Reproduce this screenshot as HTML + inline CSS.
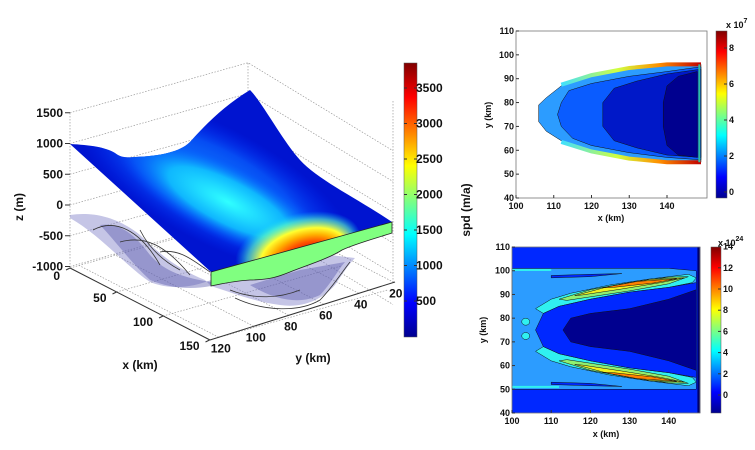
<!DOCTYPE html>
<html><head><meta charset="utf-8">
<style>
body{margin:0;background:#fff;}
svg{display:block;font-family:"Liberation Sans",Arial,sans-serif;}
.t{font-size:12px;font-weight:bold;fill:#111;}
.s{font-size:9px;font-weight:bold;fill:#111;}
</style></head>
<body>
<svg id="fig" width="755" height="450" viewBox="0 0 755 450" xmlns="http://www.w3.org/2000/svg">
<defs>
<linearGradient id="jet" x1="0" y1="1" x2="0" y2="0">
<stop offset="0" stop-color="#00008f"/><stop offset="0.125" stop-color="#0000ff"/><stop offset="0.375" stop-color="#00ffff"/><stop offset="0.625" stop-color="#ffff00"/><stop offset="0.875" stop-color="#ff0000"/><stop offset="1" stop-color="#800000"/>
</linearGradient>
<linearGradient id="band" x1="0" y1="0" x2="1" y2="0">
<stop offset="0" stop-color="#3fe0ff"/><stop offset="0.4" stop-color="#d0ff40"/><stop offset="0.7" stop-color="#ff9000"/><stop offset="1" stop-color="#c00000"/>
</linearGradient>
<radialGradient id="cyan" cx="0.5" cy="0.5" r="0.5">
<stop offset="0" stop-color="#30ffff"/><stop offset="0.55" stop-color="#10c0ff" stop-opacity="0.9"/><stop offset="1" stop-color="#0040ff" stop-opacity="0"/>
</radialGradient>
<radialGradient id="mid" cx="0.5" cy="0.5" r="0.5">
<stop offset="0" stop-color="#1090ff"/><stop offset="0.6" stop-color="#0860ff" stop-opacity="0.75"/><stop offset="1" stop-color="#0030ff" stop-opacity="0"/>
</radialGradient>
<radialGradient id="hot" cx="0.5" cy="0.5" r="0.5" fx="0.6" fy="0.78">
<stop offset="0" stop-color="#800000"/><stop offset="0.22" stop-color="#d00000"/><stop offset="0.42" stop-color="#ff5000"/><stop offset="0.55" stop-color="#ffb000"/><stop offset="0.68" stop-color="#ffff30"/><stop offset="0.85" stop-color="#60ffc0" stop-opacity="0.6"/><stop offset="1" stop-color="#00d0ff" stop-opacity="0"/>
</radialGradient>
<clipPath id="surfClip"><path d="M70,144 C90,145 105,147 115,153 C120,157 125,158 135,157 C160,156 180,152 190,142 C205,125 225,105 250,90 C262,102 282,140 300,160 S360,200 392,222 L211,272 Z"/></clipPath>
</defs>

<!-- 3D main plot -->
<g>
 <g stroke="#999" stroke-width="0.7" stroke-dasharray="1.5,1.5" fill="none" id="grid3d"></g>
 <path d="M70,215 C90,212 115,215 140,235 C160,255 180,270 205,280 L211,286 C230,292 255,302 280,305 C300,308 320,302 335,285 C342,275 348,265 355,258 L330,255 L211,280 C190,288 170,290 150,282 C125,265 100,235 70,218 Z" fill="#7f7fc8" fill-opacity="0.45" stroke="none"/>
 <path d="M100,225 C120,222 135,235 150,255 C165,272 185,278 211,282 L211,286 C190,290 170,288 150,280 C130,262 115,240 100,225 Z M250,285 C275,300 300,305 320,295 C330,285 338,270 345,262 L300,270 Z" fill="#5050a8" fill-opacity="0.4"/>
 <path d="M93,230 C115,218 140,230 160,265 M120,242 C145,235 165,245 190,275 M160,252 C180,248 195,262 210,272 M140,230 C150,250 165,262 180,270 M235,298 C265,312 300,312 320,300 C332,288 342,272 350,262 M230,290 C255,300 280,298 300,290" fill="none" stroke="#333" stroke-width="0.8"/>
 <path d="M70,144 C90,145 105,147 115,153 C120,157 125,158 135,157 C160,156 180,152 190,142 C205,125 225,105 250,90 C262,102 282,140 300,160 S360,200 392,222 L211,272 Z" fill="#0014d0"/>
 <g clip-path="url(#surfClip)">
  <ellipse cx="215" cy="185" rx="155" ry="58" transform="rotate(28 215 185)" fill="url(#mid)"/>
  <ellipse cx="228" cy="202" rx="120" ry="38" transform="rotate(27 228 202)" fill="url(#cyan)"/>
  <ellipse cx="298" cy="248" rx="64" ry="34" transform="rotate(-15 298 248)" fill="url(#hot)"/>
 </g>
 <path d="M211,272 L392,222 L392,233 C370,240 355,244 342,250 C330,258 305,266 290,272 C280,276 270,280 250,280 C235,281 220,284 211,286 Z" fill="#80ff80" stroke="#222" stroke-width="0.8"/>
 <g id="axes3d"></g>
 <text class="t" transform="translate(23,207) rotate(-90)" text-anchor="middle" font-size="13">z (m)</text>
 <text class="t" x="140" y="369" text-anchor="middle" font-size="13">x (km)</text>
 <text class="t" x="313" y="362" text-anchor="middle" font-size="13">y (km)</text>
 <rect x="404" y="63" width="13" height="274" fill="url(#jet)" stroke="#555" stroke-width="0.5"/>
 <g id="cb1"></g>
 <text class="t" transform="translate(470,210) rotate(-90)" text-anchor="middle" font-size="13">spd (m/a)</text>
</g>

<!-- top contour -->
<g>
 <rect x="516" y="31" width="191" height="167" fill="#fff"/>
 <g id="ct1"></g>
 <rect x="516" y="31" width="191" height="167" fill="none" stroke="#777" stroke-width="0.8"/>
 <g id="ax1"></g>
 <rect x="716" y="31" width="11" height="167" fill="url(#jet)" stroke="#555" stroke-width="0.5"/>
 <g id="cb2"></g>
 <text class="s" x="726" y="28">x 10<tspan dy="-5" font-size="7">7</tspan></text>
 <text class="s" x="611" y="221" text-anchor="middle">x (km)</text>
 <text class="s" transform="translate(491,115) rotate(-90)" text-anchor="middle">y (km)</text>
</g>

<!-- bottom contour -->
<g>
 <rect x="512" y="247" width="188" height="166" fill="#0028ff"/>
 <g id="ct2"></g>
 <rect x="512" y="247" width="188" height="166" fill="none" stroke="#777" stroke-width="0.8"/>
 <g id="ax2"></g>
 <rect x="711" y="247" width="10" height="166" fill="url(#jet)" stroke="#555" stroke-width="0.5"/>
 <g id="cb3"></g>
 <text class="s" x="718" y="246">x 10<tspan dy="-5" font-size="7">24</tspan></text>
 <text class="s" x="606" y="437" text-anchor="middle">x (km)</text>
 <text class="s" transform="translate(486,330) rotate(-90)" text-anchor="middle">y (km)</text>
</g>
</svg>
<script>
// ---- data ----
const zTicks=[1500,1000,500,0,-500,-1000];
const xTicks3d=[0,50,100,150];
const yTicks3d=[120,100,80,60,40,20];
const spdTicks=[500,1000,1500,2000,2500,3000,3500];
const xTicksC=[100,110,120,130,140];
const yTicksC=[40,50,60,70,80,90,100,110];
const cbTopTicks=[0,2,4,6,8];
const cbBotTicks=[0,2,4,6,8,10,12,14];
// top contour levels (x km, y km)
const topLevel1=[[149,96],[140,96],[130,94],[120,91],[112,87],[108,82],[106,79],[106,72],[108,68],[112,64],[120,60],[130,57],[140,55],[149,55]];
const topLevel2=[[149,95],[140,93],[130,91],[120,88],[114,85],[112,80],[111,75],[112,70],[115,65],[120,62],[130,59],[140,57],[149,56]];
const topLevel3=[[149,94],[140,92],[132,89],[126,86],[123,80],[123,70],[126,64],[132,61],[140,58],[149,57]];
const topLevel4=[[148,93],[143,91],[140,87],[139,80],[139,70],[140,62],[143,58],[148,57]];
const topEdgeUpper=[[112,87.5],[120,91.5],[130,94.5],[140,96],[149,96]];
const topEdgeLower=[[112,63.5],[120,59.5],[130,56.5],[140,55],[149,55]];
// bottom contour levels
const botLight=[[100,101],[140,101],[147,100],[147,50],[140,50],[100,50]];
const botCyanU=[[106,84],[110,88],[115,90.5],[125,94],[135,96.5],[145,98.5],[147,97],[146,95],[140,93],[130,91],[120,88],[112,85],[108,82]];
const botCyanL=[[106,66],[110,62],[115,59.5],[125,56],[135,53.5],[145,51.5],[147,53],[146,55],[140,57],[130,59],[120,62],[112,65],[108,68]];
const botGreenU=[[112,88],[120,92],[130,95],[140,97.3],[145,97.5],[140,94.5],[130,91.5],[120,89],[114,87.5]];
const botGreenL=[[112,62],[120,58],[130,55],[140,52.7],[145,52.5],[140,55.5],[130,58.5],[120,61],[114,62.5]];
const botYelU=[[116,89.5],[125,93.5],[135,96.3],[144,97],[138,95],[128,92.3],[118,89.8]];
const botYelL=[[116,60.5],[125,56.5],[135,53.7],[144,53],[138,55],[128,57.7],[118,60.2]];
const botOrU=[[123,92.8],[132,95.5],[142,96.6],[136,94.8],[126,93]];
const botOrL=[[123,57.2],[132,54.5],[142,53.4],[136,55.2],[126,57]];
const botBlue=[[147,95],[140,93],[130,91],[120,88],[112,85],[108,82],[106,75],[108,68],[112,65],[120,62],[130,59],[140,57],[147,55]];
const botDark=[[147,92],[140,88],[130,84],[120,82],[115,80],[113,75],[115,70],[120,68],[130,66],[140,62],[147,58]];
const botStreakU=[[110,98],[120,98.5],[128,98.8],[120,97.5],[110,97]];
const botStreakL=[[110,52],[120,51.5],[128,51.2],[120,52.5],[110,53]];

const NS='http://www.w3.org/2000/svg';
function mk(p,tag,at){const e=document.createElementNS(NS,tag);for(const k in at)e.setAttribute(k,at[k]);p.appendChild(e);return e;}
function txt(p,x,y,s,cls,anchor){const e=mk(p,'text',{x:x,y:y,'class':cls,'text-anchor':anchor||'start'});e.textContent=s;return e;}

// 3D axes
const zY=v=>205-v*0.0615;
const xP=v=>[70+v*0.93,268+v*0.48];
const yP=v=>[210+(125-v)*1.75,340-(125-v)*0.55];
const g3=document.getElementById('grid3d'),a3=document.getElementById('axes3d');
zTicks.forEach(v=>{const y=zY(v);
 const l=mk(g3,'path',{d:`M70,${y} L248,${y-50} L393,${y+38}`});
 
 mk(a3,'line',{x1:65,y1:y,x2:70,y2:y,stroke:'#333'});
 const t=txt(a3,63,y+4,String(v),'t','end');
 });
mk(g3,'path',{d:'M70,113 L70,268 M248,63 L248,218 M393,101 L393,282'});
xTicks3d.forEach(v=>{const [x,y]=xP(v);
 mk(g3,'path',{d:`M${x},${y} L${x+178},${y-50}`});
 mk(a3,'line',{x1:x,y1:y,x2:x-4,y2:y+2,stroke:'#333'});
 const t=txt(a3,x-10,y+(v===0?12:10),String(v),'t','end');
 });
mk(a3,'line',{x1:70,y1:268,x2:210,y2:340,stroke:'#333'});
mk(a3,'line',{x1:210,y1:340,x2:395,y2:282,stroke:'#333'});
yTicks3d.forEach(v=>{const [x,y]=yP(v);
 mk(g3,'path',{d:`M${x},${y} L${x-140},${y-72}`});
 const t=txt(a3,x+2,y+15,String(v),'t','middle');
 });
// speed colorbar
const cb1=document.getElementById('cb1');
spdTicks.forEach(v=>{const y=301-(v-500)*0.071;
 mk(cb1,'line',{x1:404,y1:y,x2:407,y2:y,stroke:'#333'});mk(cb1,'line',{x1:414,y1:y,x2:417,y2:y,stroke:'#333'});
 const t=txt(cb1,416,y+4,String(v),'t');});

// contour helpers
function poly(p,pts,X,Y,fill,name,stroke){const d='M'+pts.map(q=>X(q[0])+','+Y(q[1])).join(' L')+' Z';
 const e=mk(p,'path',{d:d,fill:fill,stroke:stroke||'#111','stroke-width':0.5,'stroke-linejoin':'round'});return e;}
function line(p,pts,X,Y,stroke,w,name){const d='M'+pts.map(q=>X(q[0])+','+Y(q[1])).join(' L');
 const e=mk(p,'path',{d:d,fill:'none',stroke:stroke,'stroke-width':w});return e;}
function axes(p,X,Y,x0,y1){xTicksC.forEach(v=>{mk(p,'line',{x1:X(v),y1:y1,x2:X(v),y2:y1-3,stroke:'#333'});
  const t=txt(p,X(v),y1+11,String(v),'s','middle');});
 yTicksC.forEach(v=>{mk(p,'line',{x1:x0,y1:Y(v),x2:x0+3,y2:Y(v),stroke:'#333'});
  const t=txt(p,x0-2,Y(v)+3,String(v),'s','end');});}

// top
const X1=v=>516+(v-100)*3.775,Y1=v=>198-(v-40)*2.386;
const ct1=document.getElementById('ct1');
poly(ct1,topLevel1,X1,Y1,'#2c9cff','level-1');
line(ct1,topEdgeUpper,X1,Y1,'url(#band)',4,'upper-edge-band');
line(ct1,topEdgeLower,X1,Y1,'url(#band)',4,'lower-edge-band');
poly(ct1,topLevel2,X1,Y1,'#0a5cff','level-2');
poly(ct1,topLevel3,X1,Y1,'#0018c8','level-3');
poly(ct1,topLevel4,X1,Y1,'#00008f','level-4');
mk(ct1,'rect',{x:X1(148.3),y:Y1(96),width:2,height:Y1(55)-Y1(96),fill:'#30c0a0'});
axes(document.getElementById('ax1'),X1,Y1,516,198);
const cb2=document.getElementById('cb2');
cbTopTicks.forEach(v=>{const y=192-v*18;mk(cb2,'line',{x1:724,y1:y,x2:727,y2:y,stroke:'#333'});
 const t=txt(cb2,729,y+3,String(v),'s');});

// bottom
const X2=v=>512+(v-100)*3.92,Y2=v=>413-(v-40)*2.371;
const ct2=document.getElementById('ct2');
poly(ct2,botLight,X2,Y2,'#2c9cff','light-band');
line(ct2,[[100,100.3],[110,100.3]],X2,Y2,'#30f0f0',2,'top-edge-cyan');
line(ct2,[[100,51],[112,51]],X2,Y2,'#30f0f0',2,'bottom-edge-cyan');
poly(ct2,botStreakU,X2,Y2,'#0028ff','upper-streak');
poly(ct2,botStreakL,X2,Y2,'#0028ff','lower-streak');
poly(ct2,botCyanU,X2,Y2,'#30f0f0','upper-arm-cyan');
poly(ct2,botCyanL,X2,Y2,'#30f0f0','lower-arm-cyan');
poly(ct2,botGreenU,X2,Y2,'#90f070','upper-arm-green');
poly(ct2,botGreenL,X2,Y2,'#90f070','lower-arm-green');
poly(ct2,botYelU,X2,Y2,'#f0f020','upper-arm-yellow');
poly(ct2,botYelL,X2,Y2,'#f0f020','lower-arm-yellow');
poly(ct2,botOrU,X2,Y2,'#ff8000','upper-arm-orange');
poly(ct2,botOrL,X2,Y2,'#ff8000','lower-arm-orange');
poly(ct2,botBlue,X2,Y2,'#0028ff','inner-blue');
poly(ct2,botDark,X2,Y2,'#00008f','inner-dark');
[[103.5,78.5],[103.5,72.5]].forEach(q=>{const e=mk(ct2,'ellipse',{cx:X2(q[0]),cy:Y2(q[1]),rx:4,ry:3.5,fill:'#30f0f0',stroke:'#111','stroke-width':0.5});});
mk(ct2,'rect',{x:X2(147.3),y:247,width:3,height:166,fill:'#00006a'});
axes(document.getElementById('ax2'),X2,Y2,512,413);
const cb3=document.getElementById('cb3');
cbBotTicks.forEach(v=>{const y=395-v*10.6;mk(cb3,'line',{x1:718,y1:y,x2:721,y2:y,stroke:'#333'});
 const t=txt(cb3,723,y+3,String(v),'s');});
</script>
</body></html>
